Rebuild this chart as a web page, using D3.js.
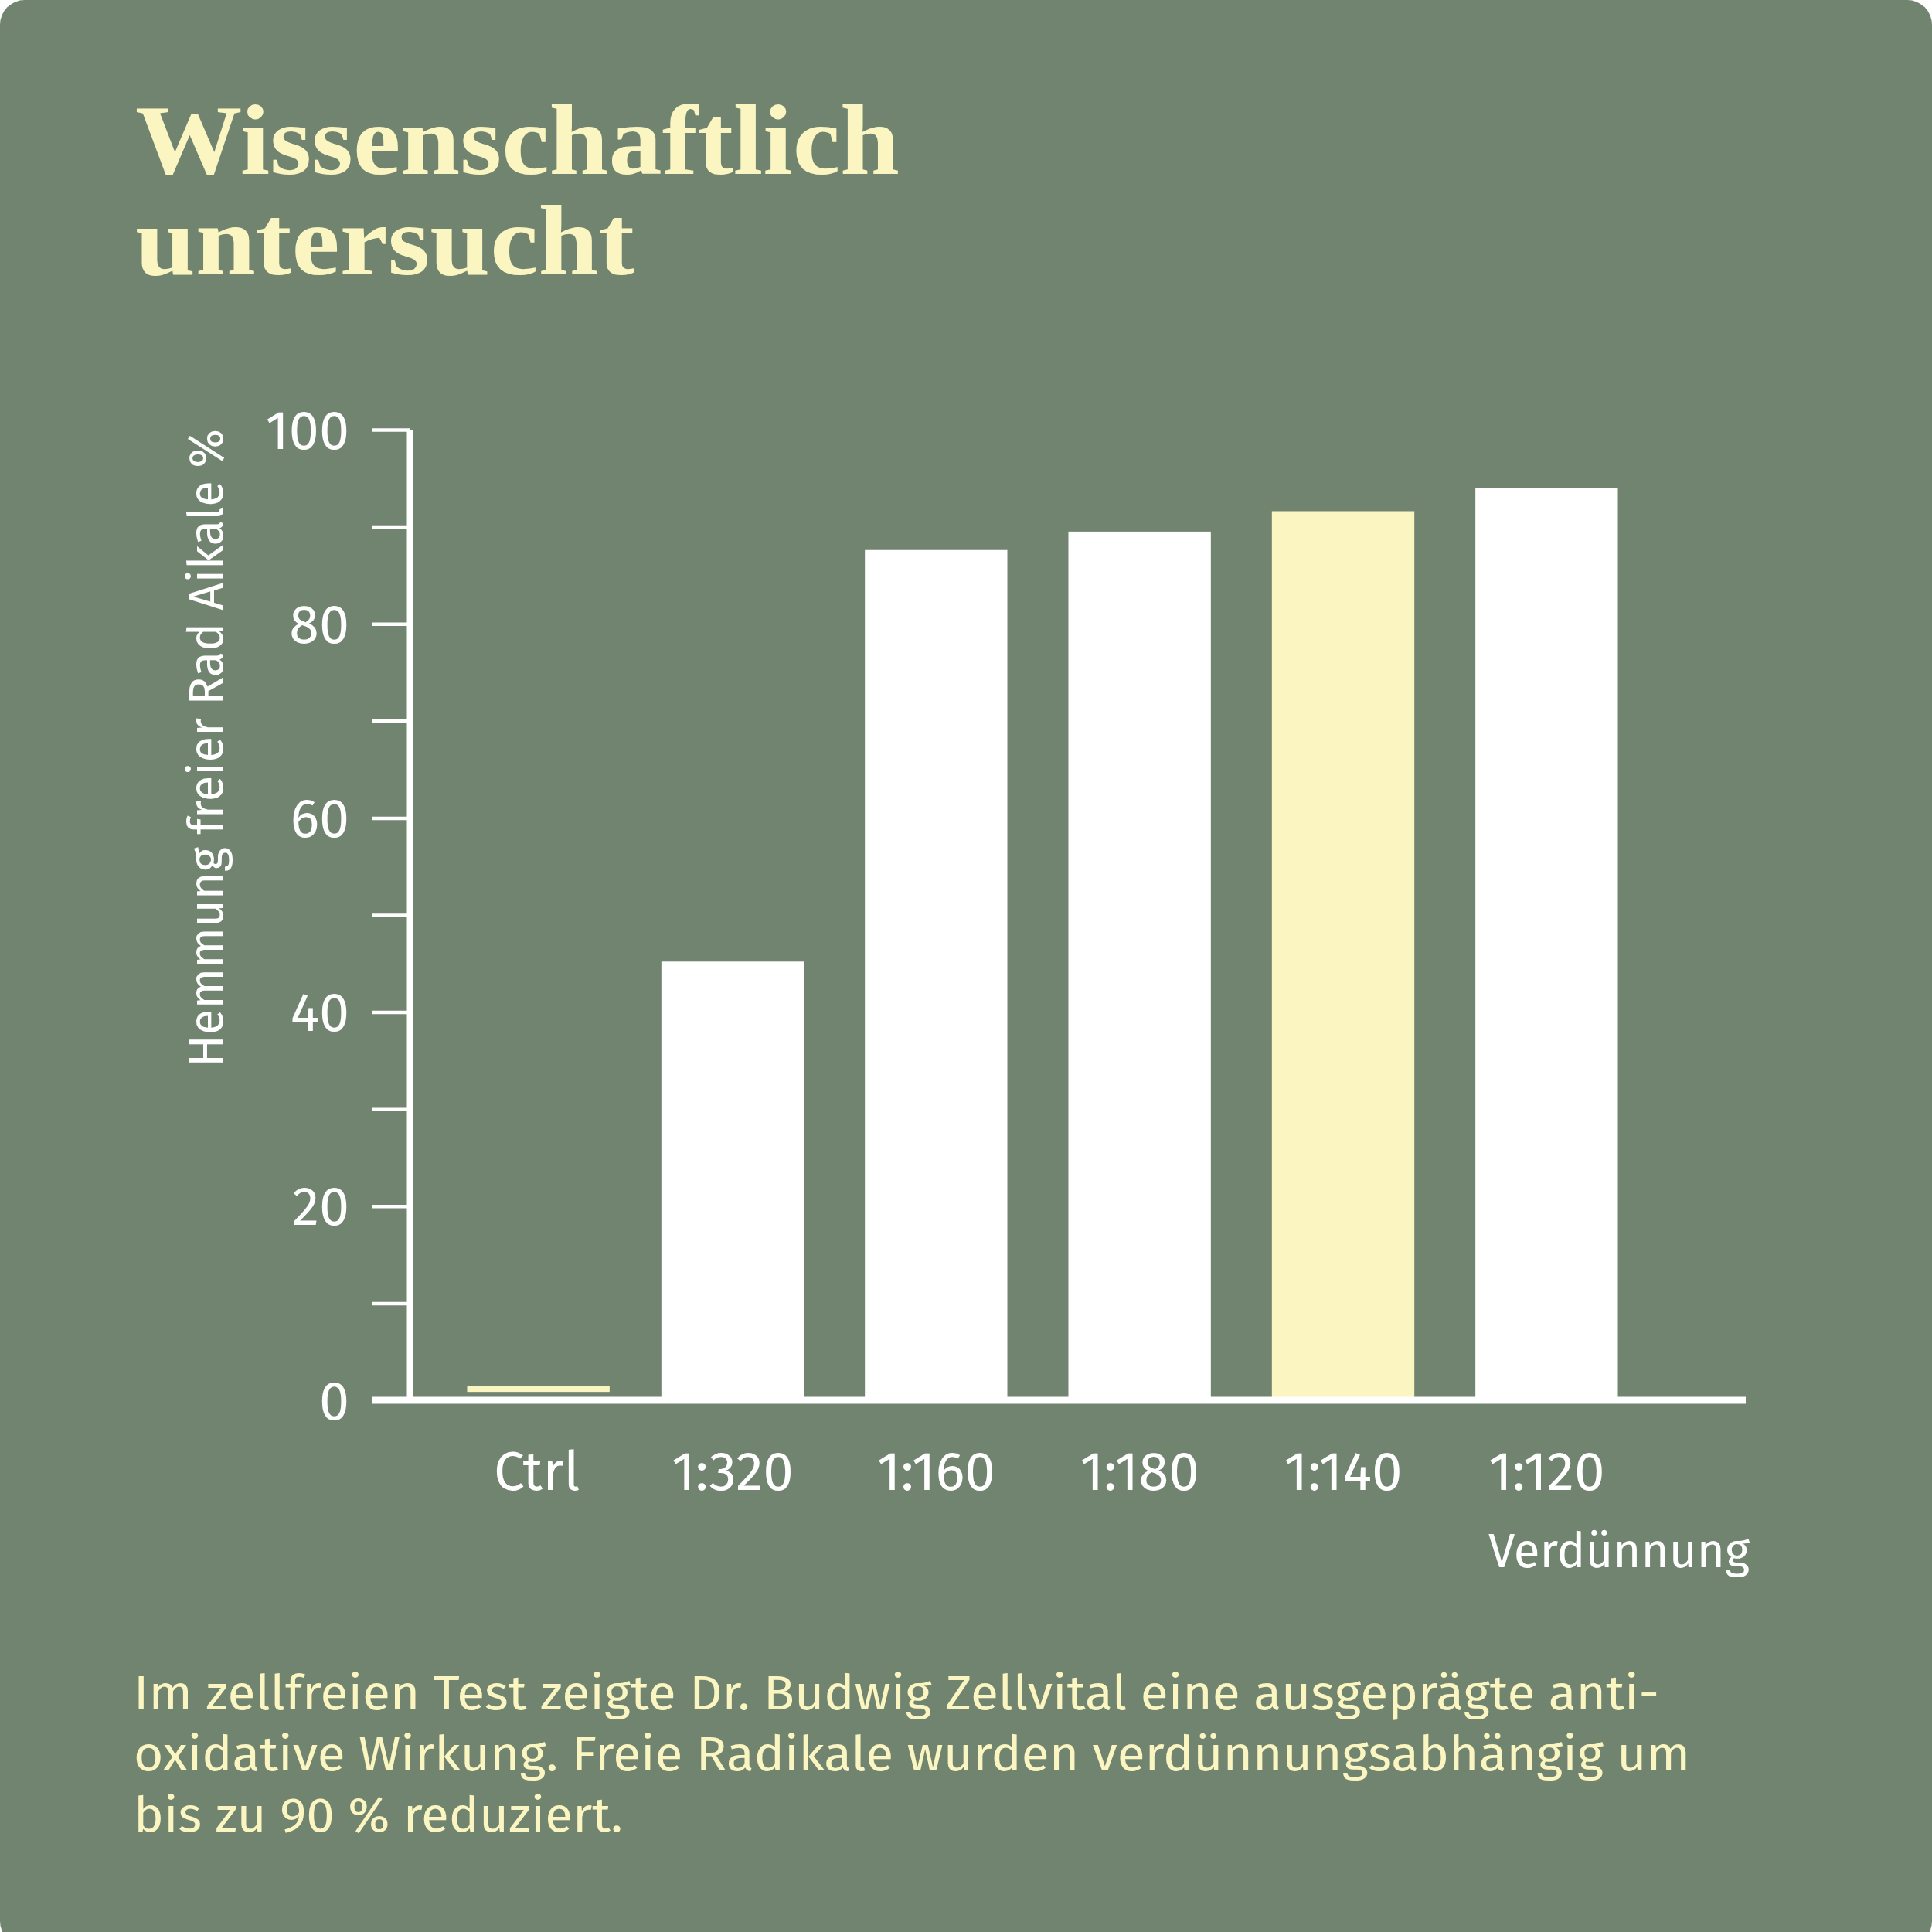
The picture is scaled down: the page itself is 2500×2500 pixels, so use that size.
<!DOCTYPE html>
<html>
<head>
<meta charset="utf-8">
<script src="https://cdn.jsdelivr.net/npm/d3@7"></script>
<style>
  html, body { margin: 0; padding: 0; background: #ffffff; }
  svg { display: block; }
</style>
</head>
<body>
<svg id="chart" width="2500" height="2500"></svg>
<script>
// ---- data ----
const categories = ["Ctrl", "1:320", "1:160", "1:180", "1:140", "1:120"];
const values = [1.5, 45.2, 87.6, 89.5, 91.6, 94.0];
const highlighted = ["Ctrl", "1:140"];
const yTickValues = [0, 10, 20, 30, 40, 50, 60, 70, 80, 90, 100];
const yLabelValues = [0, 20, 40, 60, 80, 100];
const titleLines = ["Wissenschaftlich", "untersucht"];
const yAxisTitle = "Hemmung freier Rad Aikale %";
const xAxisTitle = "Verdünnung";
const bodyLines = [
  "Im zellfreien Test zeigte Dr. Budwig Zellvital eine ausgeprägte anti-",
  "oxidative Wirkung. Freie Radikale wurden verdünnungsabhängig um",
  "bis zu 90 % reduziert."
];

// ---- style ----
const BG = "#708470";
const CREAM = "#fbf6c1";
const WHITE = "#ffffff";
const SANS = "'Fira Sans', 'Noto Sans', sans-serif";
const SERIF = "'Liberation Serif', 'DejaVu Serif', serif";

const svg = d3.select("#chart");

svg.append("rect")
  .attr("x", 0).attr("y", 0)
  .attr("width", 2500).attr("height", 2518)
  .attr("rx", 32).attr("ry", 32)
  .attr("fill", BG);

// ---- scales ----
const y = d3.scaleLinear().domain([0, 100]).range([1812, 556]);
const x = d3.scaleBand().domain(categories)
  .range([553, 2133]).paddingInner(0.3).paddingOuter(0.15);

// ---- title ----
const titleWidths = [989, 646];
titleLines.forEach((t, i) => {
  svg.append("text")
    .attr("x", 175).attr("y", 225 + i * 130)
    .attr("font-family", SERIF).attr("font-weight", 700)
    .attr("font-size", 130)
    .attr("fill", CREAM)
    .attr("textLength", titleWidths[i])
    .attr("lengthAdjust", "spacingAndGlyphs")
    .text(t);
});

// ---- bars ----
const barsG = svg.append("g");
barsG.selectAll("rect.bar")
  .data(categories.map((c, i) => ({ c, v: values[i] })).filter(d => d.c !== "Ctrl"))
  .join("rect")
  .attr("class", "bar")
  .attr("x", d => x(d.c))
  .attr("width", x.bandwidth())
  .attr("y", d => y(d.v))
  .attr("height", d => y(0) - y(d.v))
  .attr("fill", d => highlighted.includes(d.c) ? CREAM : WHITE);

// control: thin line marker at its value
barsG.selectAll("rect.ctrl")
  .data(categories.map((c, i) => ({ c, v: values[i] })).filter(d => d.c === "Ctrl"))
  .join("rect")
  .attr("class", "ctrl")
  .attr("x", d => x(d.c) + 12)
  .attr("width", x.bandwidth())
  .attr("y", d => y(d.v))
  .attr("height", 8)
  .attr("fill", CREAM);

// ---- y axis ----
const yAxis = d3.axisLeft(y)
  .tickValues(yTickValues)
  .tickSize(49)
  .tickSizeOuter(0)
  .tickPadding(29)
  .tickFormat(d => yLabelValues.includes(d) ? String(d) : "");

const yG = svg.append("g")
  .attr("transform", "translate(530,0)")
  .call(yAxis);
yG.select(".domain").attr("stroke", WHITE).attr("stroke-width", 8);
yG.selectAll(".tick line").attr("stroke", WHITE).attr("stroke-width", 4.5);
yG.selectAll(".tick text")
  .attr("fill", WHITE)
  .attr("font-family", SANS)
  .attr("font-size", 70)
  .attr("dy", 24);

// baseline
svg.append("line")
  .attr("x1", 481).attr("x2", 2259)
  .attr("y1", y(0)).attr("y2", y(0))
  .attr("stroke", WHITE).attr("stroke-width", 9);

// ---- x axis ----
const xAxis = d3.axisBottom(x).tickSize(0).tickPadding(0);
const xG = svg.append("g")
  .attr("transform", `translate(0,${y(0)})`)
  .call(xAxis);
xG.select(".domain").remove();
xG.selectAll(".tick text")
  .attr("fill", WHITE)
  .attr("font-family", SANS)
  .attr("font-size", 71)
  .attr("y", 1928 - 1812)
  .attr("dy", 0)
  .attr("dx", d => d === "Ctrl" ? 10 : 0);

// axis titles
svg.append("text")
  .attr("transform", "translate(288,968) rotate(-90)")
  .attr("text-anchor", "middle")
  .attr("font-family", SANS)
  .attr("font-size", 62)
  .attr("fill", WHITE)
  .attr("textLength", 826)
  .attr("lengthAdjust", "spacingAndGlyphs")
  .text(yAxisTitle);

svg.append("text")
  .attr("x", 1926).attr("y", 2028)
  .attr("font-family", SANS)
  .attr("font-size", 62)
  .attr("fill", WHITE)
  .attr("textLength", 338)
  .attr("lengthAdjust", "spacingAndGlyphs")
  .text(xAxisTitle);

// ---- body text ----
const bodyWidths = [1974, 2014, 633];
bodyLines.forEach((t, i) => {
  svg.append("text")
    .attr("x", 173).attr("y", 2212 + i * 79)
    .attr("font-family", SANS)
    .attr("font-size", 63)
    .attr("fill", CREAM)
    .attr("textLength", bodyWidths[i])
    .attr("lengthAdjust", "spacingAndGlyphs")
    .text(t);
});
</script>
</body>
</html>
